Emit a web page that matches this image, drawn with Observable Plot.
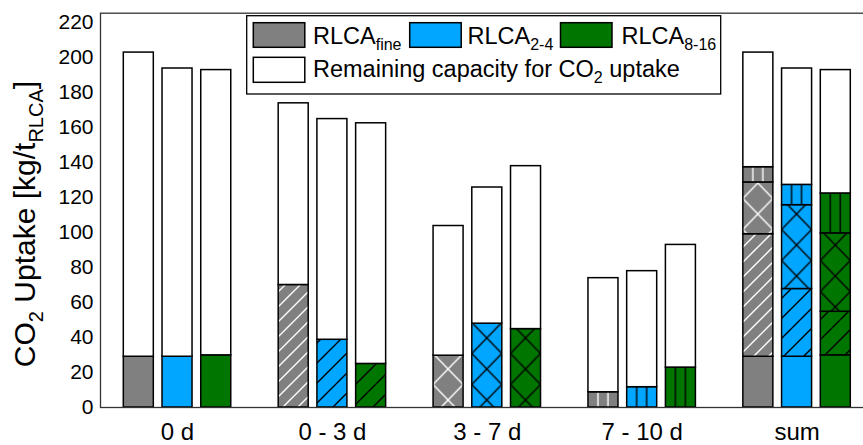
<!DOCTYPE html>
<html><head><meta charset="utf-8">
<script src="https://cdn.jsdelivr.net/npm/d3@7"></script>
<script src="https://cdn.jsdelivr.net/npm/@observablehq/plot@0.6"></script>
<style>
body{margin:0;background:#fff;}
svg{font-family:"Liberation Sans",Arial,sans-serif;}
</style>
</head><body><div id="chart"></div>
<script>
// ---- data ----
const groups = ["0 d", "0 - 3 d", "3 - 7 d", "7 - 10 d", "sum"];
const periods = ["0 d", "0 - 3 d", "3 - 7 d", "7 - 10 d"];
const fractions = ["fine", "2-4", "8-16"];
// CO2 uptake in each period [kg/t]
const uptakeFine = [29.0, 70.0, 29.6, 8.7];
const uptake24   = [29.0, 38.7, 47.9, 11.6];
const uptake816  = [29.8, 24.9, 44.8, 22.8];
// total capacity (bar top) at the start of each period [kg/t]
const capacityFine = [202.8, 173.8, 103.7, 73.9];
const capacity24   = [193.7, 164.8, 125.7, 77.9];
const capacity816  = [192.8, 162.4, 137.9, 92.9];
const yTicks = [0, 20, 40, 60, 80, 100, 120, 140, 160, 180, 200, 220];
const legendLabels = [["RLCA", "fine"], ["RLCA", "2-4"], ["RLCA", "8-16"]];

// ---- styles ----
const colors = {"fine": "#808080", "2-4": "#00a6ff", "8-16": "#007500"};
const lineColors = {"fine": "#ffffff", "2-4": "#000000", "8-16": "#000000"};

const uptake = {"fine": uptakeFine, "2-4": uptake24, "8-16": uptake816};
const capacity = {"fine": capacityFine, "2-4": capacity24, "8-16": capacity816};

const xKey = (g, f) => g + "|" + f;
const xDomain = [];
groups.forEach((g, i) => {
  if (i > 0) xDomain.push("gap" + i);
  fractions.forEach(f => xDomain.push(xKey(g, f)));
});
const fillFor = (i, f) => i === 0 ? colors[f] : `url(#pat-${i}-${f})`;

const segs = [];
periods.forEach((p, i) => fractions.forEach(f => {
  segs.push({x: xKey(p, f), y1: 0, y2: uptake[f][i], fill: fillFor(i, f)});
  segs.push({x: xKey(p, f), y1: uptake[f][i], y2: capacity[f][i], fill: "#ffffff"});
}));
fractions.forEach(f => {
  let acc = 0;
  periods.forEach((p, i) => {
    segs.push({x: xKey("sum", f), y1: acc, y2: acc + uptake[f][i], fill: fillFor(i, f)});
    acc += uptake[f][i];
  });
  segs.push({x: xKey("sum", f), y1: acc, y2: capacity[f][0], fill: "#ffffff"});
});

const chart = Plot.plot({
  width: 863, height: 445,
  marginLeft: 100, marginRight: 0, marginTop: 12.7, marginBottom: 38,
  x: {type: "band", domain: xDomain, range: [123.3, 850.3], paddingInner: 0.225, paddingOuter: 0, round: false, axis: null},
  y: {domain: [0, 225.3], axis: null},
  color: {type: "identity"},
  marks: [
    Plot.barY(segs, {x: "x", y1: "y1", y2: "y2", fill: "fill", stroke: "#000", strokeWidth: 1.5}),
    Plot.frame({stroke: "#333", strokeWidth: 1.3, insetRight: -5}),
    Plot.axisY({ticks: yTicks, tickSize: 0, tickPadding: 7, fontSize: 21, label: null}),
    Plot.axisX(groups.map(g => xKey(g, "2-4")), {tickFormat: k => k.split("|")[0], tickSize: 0, tickPadding: 15, fontSize: 24, label: null})
  ]
});
document.getElementById("chart").appendChild(chart);

// ---- patterns ----
const svg = d3.select(chart);
const xs = chart.scale("x");
const bw = xs.bandwidth, stepPx = xs.step, x0 = xs.apply(xDomain[0]);
const defs = svg.insert("defs", ":first-child");
fractions.forEach(f => {
  const c = colors[f], lc = lineColors[f], lw = 1.4;
  // diagonal
  const s = f === "fine" ? 15 : 20;
  let p = defs.append("pattern").attr("id", `pat-1-${f}`).attr("patternUnits", "userSpaceOnUse")
    .attr("width", s).attr("height", s);
  p.append("rect").attr("width", s).attr("height", s).attr("fill", c);
  p.append("path").attr("d", `M-2,2 L2,-2 M0,${s} L${s},0 M${s-2},${s+2} L${s+2},${s-2}`)
    .attr("stroke", lc).attr("stroke-width", lw);
  // cross
  const h = 31;
  p = defs.append("pattern").attr("id", `pat-2-${f}`).attr("patternUnits", "userSpaceOnUse")
    .attr("x", x0).attr("y", 384.5).attr("width", stepPx).attr("height", h);
  p.append("rect").attr("width", stepPx).attr("height", h).attr("fill", c);
  p.append("path").attr("d", `M0,0 L${bw},${h} M${bw},0 L0,${h}`)
    .attr("stroke", lc).attr("stroke-width", lw);
  // vertical
  p = defs.append("pattern").attr("id", `pat-3-${f}`).attr("patternUnits", "userSpaceOnUse")
    .attr("x", x0).attr("y", 0).attr("width", stepPx).attr("height", 10);
  p.append("rect").attr("width", stepPx).attr("height", 10).attr("fill", c);
  p.append("path").attr("d", `M${bw/3},0 V10 M${2*bw/3},0 V10`)
    .attr("stroke", lc).attr("stroke-width", lw);
});

// ---- y label ----
const yl = svg.append("text").attr("transform", "translate(35,224) rotate(-90)")
  .attr("text-anchor", "middle").attr("font-size", 30).attr("fill", "#000");
yl.append("tspan").text("CO");
yl.append("tspan").attr("font-size", 20).attr("dy", 8).text("2");
yl.append("tspan").attr("dy", -8).text(" Uptake [kg/t");
yl.append("tspan").attr("font-size", 20).attr("dy", 8).text("RLCA");
yl.append("tspan").attr("dy", -8).text("]");

// ---- legend ----
const lg = svg.append("g").attr("font-size", 23.5).attr("fill", "#000").attr("text-anchor", "start");
lg.append("rect").attr("x", 246.7).attr("y", 15.7).attr("width", 474).attr("height", 78.3)
  .attr("fill", "#fff").attr("stroke", "#000").attr("stroke-width", 1.3);
const swX = [253.3, 409.7, 560.5], txX = [313, 467.5, 621.5];
fractions.forEach((f, i) => {
  lg.append("rect").attr("x", swX[i]).attr("y", 22.7).attr("width", 51.5).attr("height", 24.6)
    .attr("fill", colors[f]).attr("stroke", "#000").attr("stroke-width", 1.5);
  const t = lg.append("text").attr("x", txX[i]).attr("y", 43.5);
  t.append("tspan").text(legendLabels[i][0]);
  t.append("tspan").attr("font-size", 16).attr("dy", 6).text(legendLabels[i][1]);
});
lg.append("rect").attr("x", 253.3).attr("y", 57.3).attr("width", 51.5).attr("height", 25)
  .attr("fill", "#fff").attr("stroke", "#000").attr("stroke-width", 1.5);
const t2 = lg.append("text").attr("x", 313).attr("y", 76.5);
t2.append("tspan").text("Remaining capacity for CO");
t2.append("tspan").attr("font-size", 16).attr("dy", 6).text("2");
t2.append("tspan").attr("dy", -6).text(" uptake");
</script>
</body></html>
